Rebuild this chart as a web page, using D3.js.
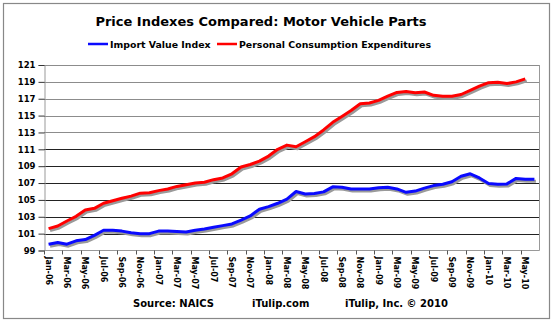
<!DOCTYPE html>
<html>
<head>
<meta charset="utf-8">
<style>
  body { margin: 0; background: #fff; }
  svg { display: block; font-family: "DejaVu Sans", Verdana, sans-serif; }
</style>
</head>
<body>
<svg id="chart" width="553" height="323"></svg>
<script src="https://d3js.org/d3.v7.min.js"></script>
<script>

// months Jan-06 .. Jun-10
var months = ["Jan-06","Feb-06","Mar-06","Apr-06","May-06","Jun-06","Jul-06","Aug-06","Sep-06","Oct-06","Nov-06","Dec-06",
  "Jan-07","Feb-07","Mar-07","Apr-07","May-07","Jun-07","Jul-07","Aug-07","Sep-07","Oct-07","Nov-07","Dec-07",
  "Jan-08","Feb-08","Mar-08","Apr-08","May-08","Jun-08","Jul-08","Aug-08","Sep-08","Oct-08","Nov-08","Dec-08",
  "Jan-09","Feb-09","Mar-09","Apr-09","May-09","Jun-09","Jul-09","Aug-09","Sep-09","Oct-09","Nov-09","Dec-09",
  "Jan-10","Feb-10","Mar-10","Apr-10","May-10","Jun-10"];

var importIndex = [99.75, 99.95, 99.75, 100.15, 100.3, 100.8, 101.4, 101.4, 101.3, 101.1, 101.0, 101.0,
  101.3, 101.3, 101.25, 101.2, 101.4, 101.55, 101.75, 101.95, 102.15, 102.6, 103.1, 103.9,
  104.2, 104.6, 105.1, 106.0, 105.7, 105.75, 105.95, 106.55, 106.5, 106.3, 106.3, 106.3,
  106.45, 106.5, 106.3, 105.9, 106.05, 106.4, 106.7, 106.85, 107.15, 107.8, 108.1, 107.6,
  106.95, 106.85, 106.9, 107.55, 107.45, 107.45];

var pceIndex = [101.6, 101.9, 102.5, 103.05, 103.8, 104.0, 104.6, 104.9, 105.2, 105.45, 105.8, 105.85,
  106.1, 106.3, 106.6, 106.8, 107.0, 107.1, 107.4, 107.6, 108.1, 108.9, 109.2, 109.6,
  110.2, 111.0, 111.5, 111.3, 111.9, 112.5, 113.3, 114.2, 114.9, 115.6, 116.4, 116.5,
  116.8, 117.3, 117.75, 117.85, 117.7, 117.8, 117.4, 117.3, 117.3, 117.5, 118.0, 118.5,
  118.9, 118.95, 118.8, 119.0, 119.35];

var yTicks = [99, 101, 103, 105, 107, 109, 111, 113, 115, 117, 119, 121];
var xTickLabels = months.filter(function(d, i) { return i % 2 === 0; });

var series = [
  { name: "Import Value Index", values: importIndex, color: "#0a0aff" },
  { name: "Personal Consumption Expenditures", values: pceIndex, color: "#ff0000" }
];

var svg = d3.select("#chart");
var plotL = 44, plotR = 539, plotT = 65, plotB = 250.5;

var x = d3.scaleBand().domain(months).range([plotL, plotR]);
var y = d3.scaleLinear().domain([99, 121]).range([plotB, plotT]);

// outer frame
svg.append("rect")
    .attr("x", 3.5).attr("y", 3.5)
    .attr("width", 546).attr("height", 315)
    .attr("fill", "none")
    .attr("stroke", "#888")
    .attr("stroke-width", 1.2);

// title
svg.append("text")
    .attr("x", 261).attr("y", 26)
    .attr("text-anchor", "middle")
    .attr("font-weight", "bold")
    .attr("font-size", 13)
    .text("Price Indexes Compared: Motor Vehicle Parts");

// legend
var legX = [88, 217];
var leg = svg.append("g").attr("font-size", 9.4).attr("font-weight", "bold");
series.forEach(function(s, i) {
  leg.append("line")
      .attr("x1", legX[i]).attr("x2", legX[i] + 20)
      .attr("y1", 44).attr("y2", 44)
      .attr("stroke", s.color).attr("stroke-width", 2.5);
  leg.append("text")
      .attr("x", legX[i] + 22).attr("y", 47.5)
      .text(s.name);
});

// gridlines
svg.append("g")
  .selectAll("line")
  .data(yTicks.slice(1))
  .enter().append("line")
    .attr("x1", plotL).attr("x2", plotR)
    .attr("y1", function(d) { return Math.round(y(d)) + 0.5; })
    .attr("y2", function(d) { return Math.round(y(d)) + 0.5; })
    .attr("stroke", function(d) { return d >= 113 ? "#8c8c8c" : "#222"; })
    .attr("stroke-width", 1);

// plot border on the right
svg.append("line")
    .attr("x1", plotR + 0.5).attr("x2", plotR + 0.5)
    .attr("y1", plotT).attr("y2", plotB)
    .attr("stroke", "#999");

// y axis
var yAxis = svg.append("g")
    .attr("transform", "translate(" + (plotL + 0.5) + ",0)")
    .call(d3.axisLeft(y).tickValues(yTicks).tickSize(6).tickPadding(3).tickFormat(d3.format("d")));
yAxis.select(".domain").attr("stroke", "#999");
yAxis.selectAll(".tick line").attr("stroke", "#333");
yAxis.selectAll("text")
    .attr("font-size", 8.5)
    .attr("font-weight", "bold")
    .attr("font-family", "DejaVu Sans, Verdana, sans-serif")
    .attr("fill", "#000");

// x axis: ticks on category boundaries every 2 months
var xg = svg.append("g");
xg.append("line")
    .attr("x1", plotL).attr("x2", plotR + 0.5)
    .attr("y1", plotB).attr("y2", plotB)
    .attr("stroke", "#999");
xg.selectAll(".xt")
  .data(xTickLabels)
  .enter().append("line")
    .attr("x1", function(d) { return Math.round(x(d)) + 0.5; })
    .attr("x2", function(d) { return Math.round(x(d)) + 0.5; })
    .attr("y1", plotB).attr("y2", plotB + 4)
    .attr("stroke", "#555");
xg.selectAll("text")
  .data(xTickLabels)
  .enter().append("text")
    .attr("transform", function(d) {
      return "translate(" + (x(d) + x.bandwidth() / 2 - 3) + "," + (plotB + 6) + ") rotate(90)";
    })
    .attr("font-size", 8)
    .attr("font-weight", "bold")
    .text(function(d) { return d; });

// lines with shadow
var line = d3.line()
    .x(function(d, i) { return x(months[i]) + x.bandwidth() / 2; })
    .y(function(d) { return y(d); });

series.forEach(function(s) {
  svg.append("path")
      .attr("d", line(s.values))
      .attr("transform", "translate(1.5,2)")
      .attr("fill", "none")
      .attr("stroke", "#9a9a9a")
      .attr("stroke-width", 3)
      .attr("stroke-linejoin", "round");
  svg.append("path")
      .attr("d", line(s.values))
      .attr("fill", "none")
      .attr("stroke", s.color)
      .attr("stroke-width", 3)
      .attr("stroke-linejoin", "round");
});

// footer
var foot = svg.append("g").attr("font-size", 10).attr("font-weight", "bold");
foot.append("text").attr("x", 133).attr("y", 307).text("Source: NAICS");
foot.append("text").attr("x", 252).attr("y", 307).text("iTulip.com");
foot.append("text").attr("x", 345).attr("y", 307).text("iTulip, Inc. \u00a9 2010");

</script>
</body>
</html>
